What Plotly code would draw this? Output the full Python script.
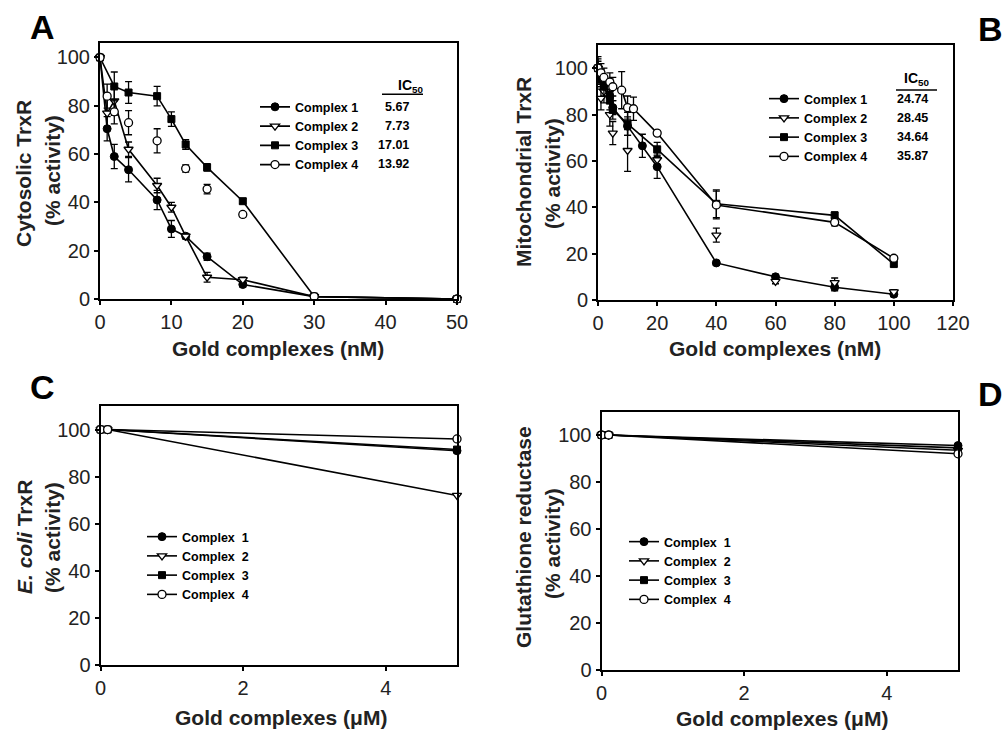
import plotly.graph_objects as go

W, H = 1002, 731
FONT = "Liberation Sans, Arial, sans-serif"

names_ab = ["Complex 1", "Complex 2", "Complex 3", "Complex 4"]
names_cd = ["Complex\u00a0\u00a01", "Complex\u00a0\u00a02", "Complex\u00a0\u00a03", "Complex\u00a0\u00a04"]

# ---------------- Panel A : cytosolic TrxR (nM) ----------------
a_x1 = [0, 1, 2, 4, 8, 10, 12, 15, 20, 30, 50]
a_y1 = [100, 70.5, 59, 53.5, 41, 29, 26, 17.5, 6, 1, 0]
a_e1 = [0, 5, 5, 5, 4, 3.5, 1, 1.5, 1, 0, 0]
a_x2 = [0, 1, 2, 4, 8, 10, 12, 15, 20, 30, 50]
a_y2 = [100, 77, 82, 62, 47, 38, 26, 9, 8, 1, 0]
a_e2 = [0, 6, 6, 3, 3, 2, 1, 2, 1, 0, 0]
a_x3 = [0, 2, 4, 8, 10, 12, 15, 20, 30, 50]
a_y3 = [100, 88, 85.5, 84, 74.5, 64, 54.5, 40.5, 1, 0]
a_e3 = [0, 6, 4.5, 4, 3, 2, 1.5, 1, 0, 0]
a_x4 = [0, 1, 2, 4, 8, 12, 15, 20, 30, 50]
a_y4 = [100, 84, 77.5, 73, 65.5, 54, 45.5, 35, 1, 0]
a_e4 = [0, 5, 5, 5, 5, 1.5, 2, 1, 0, 0]
a_ic50 = ["5.67", "7.73", "17.01", "13.92"]

# ---------------- Panel B : mitochondrial TrxR (nM) ----------------
b_x1 = [0, 1, 2, 4, 5, 10, 15, 20, 40, 60, 80, 100]
b_y1 = [100, 96, 93, 88, 83, 75, 66.5, 57.5, 16, 10, 5.5, 2.5]
b_e1 = [2, 3, 3, 3, 3, 4, 5, 5, 1, 1, 1.5, 1]
b_x2 = [0, 1, 2, 4, 5, 10, 20, 40, 60, 80, 100]
b_y2 = [100, 87, 90, 80, 72, 64.5, 60.5, 28, 8, 7.5, 3.5]
b_e2 = [4, 5, 5, 5, 5, 9, 3, 3, 1, 2, 1]
b_x3 = [0, 1, 2, 4, 5, 10, 20, 40, 80, 100]
b_y3 = [100, 95, 92, 86, 82, 76, 65, 41.5, 36.5, 15.5]
b_e3 = [3, 4, 4, 4, 4, 5, 3, 6, 1.5, 1]
b_x4 = [0, 1, 2, 4, 5, 8, 10, 12, 20, 40, 80, 100]
b_y4 = [100, 98, 96, 94, 92, 90.5, 83, 82.5, 72, 41, 33.5, 18]
b_e4 = [5, 4, 4, 4, 4, 8, 5, 5, 1, 6, 1.5, 1]
b_ic50 = ["24.74", "28.45", "34.64", "35.87"]

# ---------------- Panel C : E. coli TrxR (uM) ----------------
c_x = [0, 0.1, 5]
c_y1 = [100, 100, 91]
c_y2 = [100, 100, 72]
c_y3 = [100, 100, 91.5]
c_y4 = [100, 100, 96]

# ---------------- Panel D : glutathione reductase (uM) ----------------
d_x = [0, 0.1, 5]
d_y1 = [100, 100, 95.5]
d_y2 = [100, 100, 93.5]
d_y3 = [100, 100, 94.5]
d_y4 = [100, 100, 92]

markers = [
    dict(symbol="circle", color="black", size=8, line=dict(color="black", width=1)),
    dict(symbol="triangle-down", color="white", size=8, line=dict(color="black", width=1.3)),
    dict(symbol="square", color="black", size=7, line=dict(color="black", width=1)),
    dict(symbol="circle", color="white", size=8, line=dict(color="black", width=1.3)),
]
LINE = dict(color="black", width=1.6)

fig = go.Figure()


def add(ax, leg, name, k, x, y, err=None, connect=True):
    xa, ya = ax
    tr = dict(x=x, y=y, xaxis=xa, yaxis=ya, name=name, legend=leg,
              mode="lines+markers" if connect else "markers",
              marker=markers[k], line=LINE, cliponaxis=False,
              showlegend=connect)
    if err is not None:
        tr["error_y"] = dict(type="data", array=err, color="black", thickness=1.3, width=3.5)
    fig.add_trace(go.Scatter(**tr))
    if not connect:
        # legend entry (line + marker) for a series plotted as points only
        fig.add_trace(go.Scatter(x=[None], y=[None], xaxis=xa, yaxis=ya, name=name, legend=leg,
                                 mode="lines+markers", marker=markers[k], line=LINE))


add(("x", "y"), "legend", names_ab[0], 0, a_x1, a_y1, a_e1)
add(("x", "y"), "legend", names_ab[1], 1, a_x2, a_y2, a_e2)
add(("x", "y"), "legend", names_ab[2], 2, a_x3, a_y3, a_e3)
add(("x", "y"), "legend", names_ab[3], 3, a_x4, a_y4, a_e4, connect=False)

add(("x2", "y2"), "legend2", names_ab[0], 0, b_x1, b_y1, b_e1)
add(("x2", "y2"), "legend2", names_ab[1], 1, b_x2, b_y2, b_e2, connect=False)
add(("x2", "y2"), "legend2", names_ab[2], 2, b_x3, b_y3, b_e3)
add(("x2", "y2"), "legend2", names_ab[3], 3, b_x4, b_y4, b_e4)

add(("x3", "y3"), "legend3", names_cd[0], 0, c_x, c_y1)
add(("x3", "y3"), "legend3", names_cd[1], 1, c_x, c_y2)
add(("x3", "y3"), "legend3", names_cd[2], 2, c_x, c_y3)
add(("x3", "y3"), "legend3", names_cd[3], 3, c_x, c_y4)

add(("x4", "y4"), "legend4", names_cd[0], 0, d_x, d_y1)
add(("x4", "y4"), "legend4", names_cd[1], 1, d_x, d_y2)
add(("x4", "y4"), "legend4", names_cd[2], 2, d_x, d_y3)
add(("x4", "y4"), "legend4", names_cd[3], 3, d_x, d_y4)


def px(x):
    return x / W


def py(y):
    return 1 - y / H


def axis(**kw):
    d = dict(showline=True, linecolor="black", linewidth=2, mirror=True,
             ticks="outside", ticklen=4, tickwidth=1.5, tickcolor="black",
             showgrid=False, zeroline=False,
             tickfont=dict(family=FONT, size=20, color="#222"))
    d.update(kw)
    return d


def legend(x, y):
    return dict(x=px(x), y=py(y), xanchor="left", yanchor="top",
                bgcolor="rgba(0,0,0,0)", borderwidth=0, itemwidth=30,
                traceorder="normal", tracegroupgap=0,
                font=dict(family=FONT, size=12.5, color="black", weight="bold"))


annotations = []


def text(x, y, s, size=21, angle=0, xanchor="center", yanchor="middle", bold=True, color="#222"):
    annotations.append(dict(x=px(x), y=py(y), xref="paper", yref="paper", text=s,
                            showarrow=False, textangle=angle, xanchor=xanchor, yanchor=yanchor,
                            font=dict(family=FONT, size=size, color=color,
                                      weight="bold" if bold else "normal")))


# panel letters
text(42, 27, "A", size=34, color="black")
text(976, 29, "B", size=34, xanchor="left", color="black")
text(42, 387, "C", size=34, color="black")
text(976, 394, "D", size=34, xanchor="left", color="black")

# axis titles
text(23, 174, "Cytosolic TrxR", angle=-90)
text(52, 171, "(% activity)", angle=-90)
text(278, 348, "Gold complexes (nM)")
text(523, 172, "Mitochondrial TrxR", angle=-90)
text(552, 174, "(% activity)", angle=-90)
text(775, 348, "Gold complexes (nM)")
text(24, 537, "<i>E. coli</i> TrxR", angle=-90)
text(52, 538, "(% activity)", angle=-90)
text(281, 717, "Gold complexes (\u03bcM)")
text(523, 537, "Glutathione reductase", angle=-90)
text(552, 544, "(% activity)", angle=-90)
text(782, 718, "Gold complexes (\u03bcM)")

# IC50 headers and values
text(410, 86, "IC<sub>50</sub>", size=14, color="black")
text(916, 79, "IC<sub>50</sub>", size=14, color="black")
for i, (ya, yb) in enumerate(zip([106.8, 126, 145.3, 164.5], [98.6, 117.9, 137.1, 156.4])):
    text(411, ya, a_ic50[i], size=12.5, xanchor="right", color="black")
    text(930, yb, b_ic50[i], size=12.5, xanchor="right", color="black")

shapes = [
    dict(type="line", xref="paper", yref="paper", x0=px(382), x1=px(423), y0=py(94.3), y1=py(94.3),
         line=dict(color="black", width=1.5)),
    dict(type="line", xref="paper", yref="paper", x0=px(896), x1=px(937), y0=py(90), y1=py(90),
         line=dict(color="black", width=1.5)),
]

fig.update_layout(
    width=W, height=H,
    margin=dict(l=0, r=0, t=0, b=0, autoexpand=False),
    paper_bgcolor="white", plot_bgcolor="white",
    font=dict(family=FONT, color="black"),
    xaxis=axis(domain=[px(100), px(457)], range=[0, 50], dtick=10, anchor="y"),
    yaxis=axis(domain=[py(299), py(43)], range=[0, 106], dtick=20, anchor="x"),
    xaxis2=axis(domain=[px(598), px(953)], range=[0, 120], dtick=20, anchor="y2"),
    yaxis2=axis(domain=[py(300), py(45)], range=[0, 110], dtick=20, anchor="x2"),
    xaxis3=axis(domain=[px(100.5), px(457)], range=[0, 5], dtick=2, anchor="y3"),
    yaxis3=axis(domain=[py(665), py(406)], range=[0, 110], dtick=20, anchor="x3"),
    xaxis4=axis(domain=[px(601.5), px(958)], range=[0, 5], dtick=2, anchor="y4"),
    yaxis4=axis(domain=[py(670), py(411.5)], range=[0, 110], dtick=20, anchor="x4"),
    legend=legend(255, 92.2),
    legend2=legend(764, 84),
    legend3=legend(142, 522),
    legend4=legend(624, 527),
    annotations=annotations,
    shapes=shapes,
)

fig.write_html("out.html")
